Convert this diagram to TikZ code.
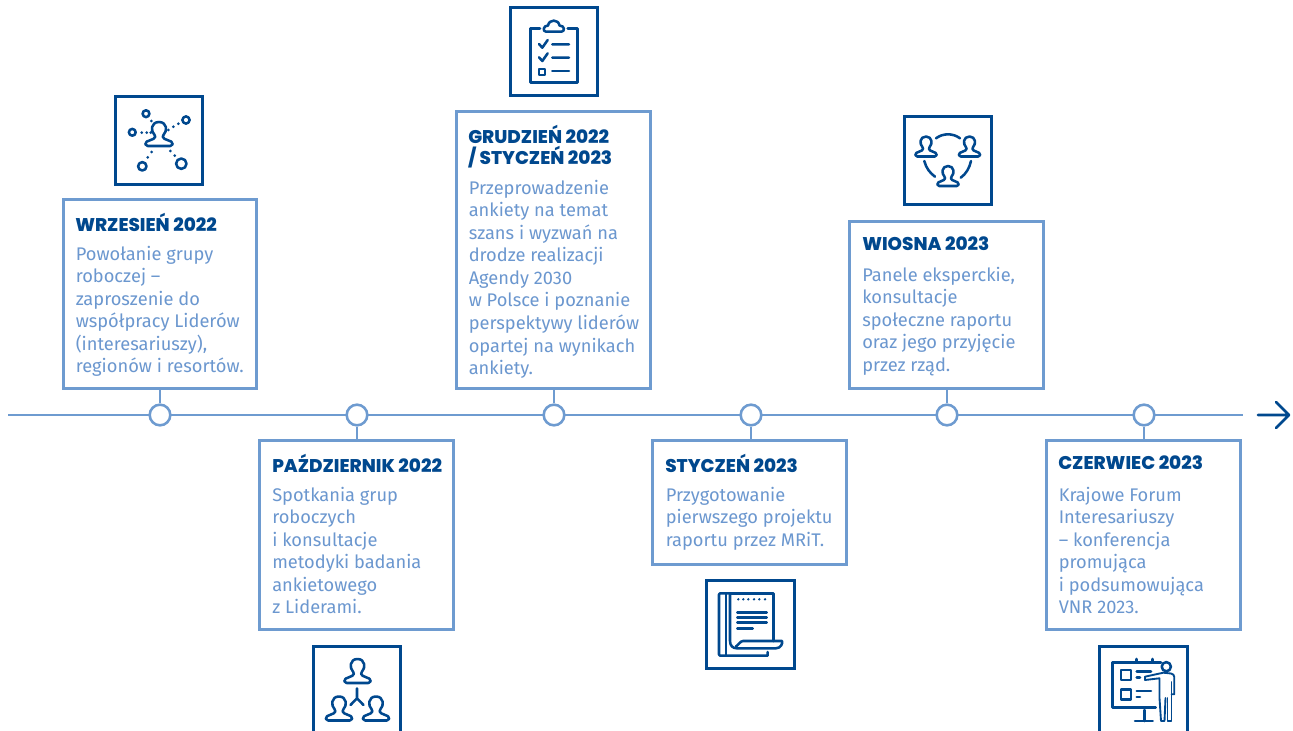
\documentclass[tikz,border=0pt]{standalone}
\usepackage{fontspec}
\setmainfont{Fira Sans}
\newfontfamily\hfont{Poppins}[BoldFont={Poppins ExtraBold}]
\definecolor{lb}{HTML}{6E9BD0}
\definecolor{db}{HTML}{00488E}
\definecolor{tb}{HTML}{6B97CF}
\newcommand{\fr}{\rule{0pt}{12pt}}
\tikzset{
 x=0.75pt,y=-0.75pt,
 tlbox/.style={draw=lb,line width=2.25pt,fill=white,inner sep=0,minimum width=#1},
 iconbox/.style={draw=db,line width=2.25pt,fill=white,inner sep=0,minimum width=65.5pt,minimum height=65.5pt},
 dotc/.style={draw=lb,line width=1.9pt,fill=white,circle,inner sep=0,minimum size=15.5pt},
 axis/.style={draw=lb,line width=2.1pt},
 head/.style={anchor=north west,inner sep=0,align=left,text=db,font=\hfont\bfseries\fontsize{13.8}{16.4}\selectfont},
 body/.style={anchor=north west,inner sep=0,align=left,text=tb,font=\fontsize{13.7}{16.9}\selectfont},
 ic/.style={draw=db,line width=1.9pt,line cap=round,line join=round},
 icleg/.style={draw=db,line width=1.4pt,line cap=round,line join=round},
 person/.pic={
  \draw[ic] (-0.42,0) -- (0.42,0) .. controls (0.52,0) and (0.54,-0.13) .. (0.46,-0.18)
   -- (0.2,-0.3) .. controls (0.13,-0.34) and (0.12,-0.42) .. (0.17,-0.47)
   .. controls (0.32,-0.62) and (0.3,-1) .. (0,-1)
   .. controls (-0.3,-1) and (-0.32,-0.62) .. (-0.17,-0.47)
   .. controls (-0.12,-0.42) and (-0.13,-0.34) .. (-0.2,-0.3)
   -- (-0.46,-0.18) .. controls (-0.54,-0.13) and (-0.52,0) .. (-0.42,0) -- cycle;
 }
}
\begin{document}
\begin{tikzpicture}
\useasboundingbox (0,0) rectangle (1293,731);
\clip (0,0) rectangle (1293,731);
% axis
\coordinate (axs) at (8,415);
\coordinate (axe) at (1243,415);
\coordinate (ars) at (1258,415);
\coordinate (are) at (1289,415);
\draw[axis] (axs) -- (axe);
\draw[db,line width=1.9pt,line cap=round,line join=round] (ars) -- (are) (1276,402) -- (are) -- (1276,428);
% boxes
\node[tlbox=145pt,minimum height=141.5pt] (b1) at (160,294) {};
\node[tlbox=145pt,minimum height=141.5pt] (b2) at (356.5,535) {};
\node[tlbox=145pt,minimum height=207pt] (b3) at (553.5,250) {};
\node[tlbox=145pt,minimum height=92.5pt] (b4) at (749.5,502.5) {};
\node[tlbox=145pt,minimum height=124.5pt] (b5) at (946.5,305) {};
\node[tlbox=145pt,minimum height=141.5pt] (b6) at (1143.5,535) {};
% timeline dots
\node[dotc] (c1) at (160,415) {};
\node[dotc] (c2) at (357,415) {};
\node[dotc] (c3) at (554,415) {};
\node[dotc] (c4) at (751,415) {};
\node[dotc] (c5) at (947,415) {};
\node[dotc] (c6) at (1144,415) {};
\draw[axis] (c1) -- (c1 |- b1.south);
\draw[axis] (c2) -- (c2 |- b2.north);
\draw[axis] (c3) -- (c3 |- b3.south);
\draw[axis] (c4) -- (c4 |- b4.north);
\draw[axis] (c5) -- (c5 |- b5.south);
\draw[axis] (c6) -- (c6 |- b6.north);
% texts
\node[head] (t1) at (75,212.5) {\fr WRZESIEŃ 2022};
\node[body] (x1) at (75.5,244) {\fr Powołanie grupy\\roboczej –\\zaproszenie do\\współpracy Liderów\\(interesariuszy),\\regionów i resortów.};
\node[head] (t2) at (272,453.5) {\fr PAŹDZIERNIK 2022};
\node[body] (x2) at (272,485) {\fr Spotkania grup\\roboczych\\i konsultacje\\metodyki badania\\ankietowego\\z Liderami.};
\node[head] (t3) at (468,124.5) {\fr GRUDZIEŃ 2022\\/ STYCZEŃ 2023};
\node[body] (x3) at (468.5,178) {\fr Przeprowadzenie\\ankiety na temat\\szans i wyzwań na\\drodze realizacji\\Agendy 2030\\w Polsce i poznanie\\perspektywy liderów\\opartej na wynikach\\ankiety.};
\node[head] (t4) at (665,453.5) {\fr STYCZEŃ 2023};
\node[body] (x4) at (665.5,485) {\fr Przygotowanie\\pierwszego projektu\\raportu przez MRiT.};
\node[head] (t5) at (862,234) {\fr WIOSNA 2023};
\node[body] (x5) at (862,265) {\fr Panele eksperckie,\\konsultacje\\społeczne raportu\\oraz jego przyjęcie\\przez rząd.};
\node[head] (t6) at (1058,453.5) {\fr CZERWIEC 2023};
\node[body] (x6) at (1058.5,485) {\fr Krajowe Forum\\Interesariuszy\\– konferencja\\promująca\\i podsumowująca\\VNR 2023.};
% icon boxes
\node[iconbox] (i1) at (159,140.5) {};
\node[iconbox] (i2) at (554,51.5) {};
\node[iconbox] (i3) at (948,160.5) {};
\node[iconbox] (i4) at (357,690) {};
\node[iconbox] (i5) at (750.5,624.5) {};
\node[iconbox] (i6) at (1143.5,690) {};
% icon 1
\pic[xscale=27,yscale=24] at (159,146) {person};
\draw[ic] (146,113.7) circle[radius=3.4] (186,120) circle[radius=3.6] (132.3,132.3) circle[radius=3.4] (142.3,166.3) circle[radius=4.2] (181.3,163.7) circle[radius=5.2];
\foreach \p in {(151.3,121),(168.3,130),(173.3,126.7),(178.3,123.7),(141.7,132.7),(146.7,132.7),(150.7,132.7),(147.7,157.3),(151.7,152),(170.3,151),(174.7,155.7)}
  \fill[db] \p circle[radius=1.5];
% icon 2
\draw[ic] (540,28.3) -- (530.7,28.3) -- (530.7,82.7) -- (577.3,82.7) -- (577.3,28.3) -- (567.7,28.3);
\draw[ic] (546,31.7) -- (561.5,31.7) .. controls (565,31.7) and (565,25.5) .. (559.5,25.5) .. controls (558.5,19) and (549,19) .. (548,25.5) .. controls (543,25.5) and (542.5,31.7) .. (546,31.7) -- cycle;
\draw[ic] (539,44) -- (542.3,47.7) -- (547.7,40) (552.3,44.3) -- (569,44.3);
\draw[ic] (539,57.3) -- (542.3,61) -- (547.7,53.3) (552.3,57.7) -- (569,57.7);
\draw[ic] (538.8,68.8) rectangle (545,75) (552.3,71) -- (569,71);
% icon 3
\pic[xscale=21,yscale=20] at (926,156.5) {person};
\pic[xscale=21,yscale=20] at (969.5,156.5) {person};
\pic[xscale=21,yscale=20] at (948,186) {person};
\draw[ic] (936,138.3) .. controls (943,133) and (953,133) .. (960,138.3);
\draw[ic] (924.3,161) .. controls (926,168) and (930,173) .. (935,176.7);
\draw[ic] (971,161) .. controls (969.5,168) and (966,174) .. (960.7,177.7);
% icon 4
\pic[xscale=26,yscale=24] at (357.5,683) {person};
\pic[xscale=26,yscale=24] at (339,720.5) {person};
\pic[xscale=26,yscale=24] at (376,720.5) {person};
\draw[ic] (357,688.3) -- (357,698.3) (350.5,705) -- (357,698.3) -- (363.5,705);
% icon 5
\draw[ic] (730,593.3) -- (773.3,593.3) -- (773.3,641);
\draw[ic] (730,593.3) -- (730,641) .. controls (730,646) and (733,648.3) .. (737,648.3) -- (776,648.3) .. controls (781,648.3) and (783,643) .. (782,641) -- (743,641) .. controls (740,641) and (739,645) .. (736,646.5);
\draw[ic] (730,593.3) -- (720,593.3) -- (719,594.5) -- (719,654.5) -- (720,655.7) -- (767.7,655.7) -- (767.7,652);
\draw[db,line width=2.2pt] (726,593.3) -- (726,655.7);
\foreach \xx in {738.3,743.3,748.3,754,759.3,765} \fill[db] (\xx,599.3) circle[radius=1.3];
\draw[ic] (737.3,612.3) -- (766.7,612.3) (737.3,617.7) -- (766.7,617.7) (737.3,622.7) -- (766.7,622.7) (737.3,628.3) -- (752.7,628.3);
% icon 6
\draw[ic] (1161,662.3) -- (1112.3,662.3) -- (1112.3,707.7) -- (1155.7,707.7);
\draw[ic] (1136.7,659) -- (1136.7,662.3) (1152.7,659) -- (1152.7,662.3);
\draw[ic] (1121,670) rectangle (1131,680) (1121,689.3) rectangle (1131,699.3);
\draw[ic] (1136.7,671.7) -- (1151,671.7) (1136.7,677.7) -- (1140,677.7) (1136.7,691) -- (1151,691) (1136.7,697) -- (1140,697);
\draw[ic] (1144.3,710) -- (1144.3,721) (1135,721) -- (1152.7,721);
\draw[ic] (1166.3,666.7) circle[radius=4.6];
\draw[icleg] (1145,676.7) -- (1163.3,672.7) -- (1171,673.5) .. controls (1173,674) and (1174.3,675) .. (1174.3,677) -- (1174.3,694.3) -- (1171.5,694.3);
\draw[icleg] (1171.5,682) -- (1171.5,721) -- (1167.5,721) -- (1167.5,698);
\draw[icleg] (1145,676.7) -- (1145,680) -- (1159.5,678.3) -- (1159.5,698) -- (1161,721) -- (1164.5,721) -- (1165.5,698);
\end{tikzpicture}
\end{document}
